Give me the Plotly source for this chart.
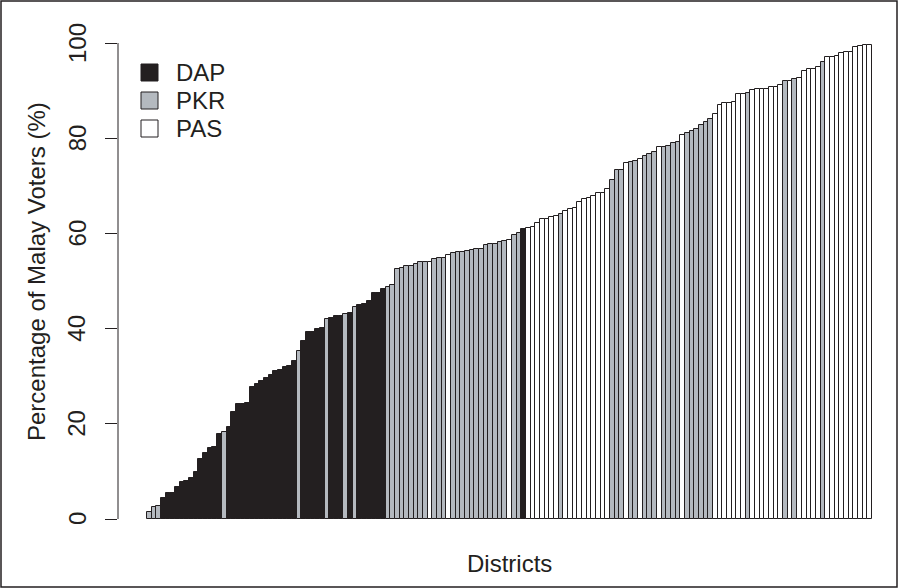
import plotly.graph_objects as go

# Percentage of Malay voters per district (sorted), and contesting party
malay_pct = [
    1.4, 2.5, 2.7, 4.5, 5.5, 5.5, 6.7, 7.7, 8.0, 8.6, 9.8, 12.6, 13.8, 14.9, 15.2, 17.8, 18.3, 19.4, 22.5,
    24.1, 24.2, 24.4, 27.7, 28.3, 29.1, 29.6, 30.3, 31.2, 31.4, 31.9, 32.1, 33.1, 35.4, 37.5, 39.2, 39.4,
    39.9, 40.2, 42.0, 42.2, 42.6, 42.6, 43.1, 43.3, 44.5, 45.0, 45.2, 45.8, 47.4, 47.5, 48.3, 48.7, 49.2,
    52.5, 52.7, 53.2, 53.2, 53.6, 53.9, 53.9, 54.1, 54.6, 54.9, 54.9, 55.4, 55.8, 56.0, 56.2, 56.4, 56.5,
    56.7, 56.7, 57.5, 57.7, 57.8, 58.2, 58.4, 58.7, 59.7, 60.1, 60.9, 61.1, 61.4, 62.2, 63.0, 63.1, 63.5,
    63.6, 64.1, 64.8, 65.1, 65.4, 66.7, 67.2, 67.4, 67.8, 68.4, 68.6, 69.3, 71.2, 73.3, 73.3, 74.7, 75.0,
    75.3, 75.6, 76.3, 76.7, 77.2, 78.1, 78.1, 78.4, 78.9, 79.3, 80.7, 81.2, 81.5, 82.0, 82.7, 83.5, 84.0,
    85.1, 87.0, 87.4, 87.4, 87.6, 89.2, 89.4, 89.6, 90.1, 90.3, 90.4, 90.4, 90.7, 90.7, 91.1, 92.0, 92.1, 92.4,
    92.7, 94.1, 94.5, 94.5, 94.9, 96.1, 97.1, 97.1, 97.3, 97.9, 98.2, 98.2, 99.2, 99.4, 99.5, 99.6,
]

party_codes = (
    "PPPDDDDDDDDDDDDDPDD"
    "DDDDDDDDDDDDDPDDD"
    "DDPDDDPDPDDDDDDPP"
    "PPPPPPPWPPPWPPPPP"
    "PPPPPPPWPPDWWWWWW"
    "WPWWWWWWWWWWPPPWP"
    "PWPPPWPPPPWPPPPPP"
    "WWWWWWWPWWWWWWWPWP"
    "WWWWWPWWWWWWWWWW"
)
code_to_party = {"D": "DAP", "P": "PKR", "W": "PAS"}
parties = [code_to_party[c] for c in party_codes]

legend_labels = ["DAP", "PKR", "PAS"]
party_colors = {"DAP": "#231f20", "PKR": "#b4b9bf", "PAS": "#ffffff"}

y_tick_vals = [0, 20, 40, 60, 80, 100]

INK = "#231f20"
FONT = "Liberation Sans, Arial, Helvetica, sans-serif"
FS = 24

n = len(malay_pct)
xpos = [i + 0.5 for i in range(n)]

fig = go.Figure()
fig.add_trace(go.Bar(
    x=xpos, y=malay_pct, width=1.0,
    marker=dict(color=[party_colors[p] for p in parties],
                line=dict(color=INK, width=1)),
    showlegend=False, hoverinfo="skip",
))

W, H = 898, 588
ml, mr, mt, mb = 118, 0, 26, 50
pw, ph = W - ml - mr, H - mt - mb

def px_x(px):
    return (px - ml) / pw

def px_y(py):
    return (H - mb - py) / ph

ext = 0.04 * n
px_per_unit = 725.0 / n
x_max = (W - 147) / px_per_unit

fig.update_layout(
    width=W, height=H,
    margin=dict(l=ml, r=mr, t=mt, b=mb),
    paper_bgcolor="white", plot_bgcolor="white",
    bargap=0,
    xaxis=dict(range=[-ext, x_max], visible=False, fixedrange=True),
    yaxis=dict(range=[-0.04 * 99.6, 99.6 * 1.04], showgrid=False, zeroline=False,
               showline=False, ticks="outside", ticklen=12, tickwidth=1, tickcolor=INK,
               tickvals=y_tick_vals, showticklabels=False),
    font=dict(family=FONT, size=FS, color=INK),
)

shapes = []
# y axis line from 0 to 100
shapes.append(dict(type="line", xref="paper", yref="y", x0=0, x1=0, y0=0, y1=100,
                   line=dict(color=INK, width=1)))
# outer frame
shapes.append(dict(type="rect", xref="paper", yref="paper",
                   x0=px_x(1), x1=px_x(897), y0=px_y(587), y1=px_y(1),
                   line=dict(color=INK, width=1.5)))

annotations = []
for v in y_tick_vals:
    annotations.append(dict(x=px_x(77), xref="paper", y=v, yref="y", text=str(v),
                            textangle=-90, showarrow=False, xanchor="center", yanchor="middle",
                            font=dict(size=FS, color=INK, family=FONT)))

annotations.append(dict(x=px_x(36), xref="paper", y=px_y(272), yref="paper",
                        text="Percentage of Malay Voters (%)", textangle=-90, showarrow=False,
                        xanchor="center", yanchor="middle", font=dict(size=FS, color=INK, family=FONT)))
annotations.append(dict(x=px_x(509.5), xref="paper", y=px_y(563), yref="paper",
                        text="Districts", showarrow=False, xanchor="center", yanchor="middle",
                        font=dict(size=FS, color=INK, family=FONT)))

# legend
leg_y = [72.5, 100.5, 128.5]
for lab, cy in zip(legend_labels, leg_y):
    shapes.append(dict(type="rect", xref="paper", yref="paper",
                       x0=px_x(141), x1=px_x(158), y0=px_y(cy + 8.5), y1=px_y(cy - 8.5),
                       fillcolor=party_colors[lab], line=dict(color=INK, width=1)))
    annotations.append(dict(x=px_x(174), xref="paper", y=px_y(cy), yref="paper", text=lab,
                            showarrow=False, xanchor="left", yanchor="middle",
                            font=dict(size=FS, color=INK, family=FONT)))

fig.update_layout(shapes=shapes, annotations=annotations)
fig.write_html(
    "out.html",
    config={"displayModeBar": False},
    post_script="document.body.style.margin='0';document.body.style.padding='0';document.body.style.overflow='hidden';",
)
